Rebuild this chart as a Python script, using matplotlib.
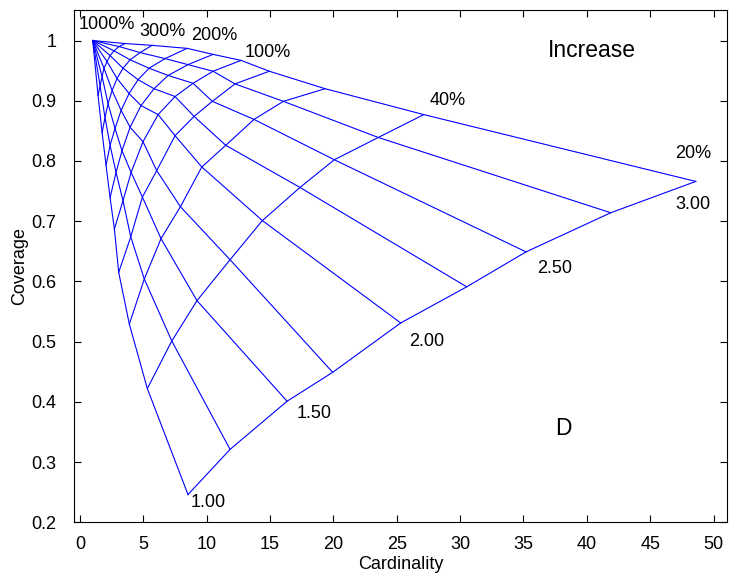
import numpy as np
import matplotlib.pyplot as plt

plt.rcParams['font.family'] = ['Liberation Sans', 'DejaVu Sans']

# parameter values of the mesh
D = [1.00, 1.25, 1.50, 1.75, 2.00, 2.25, 2.50, 2.75, 3.00]
increase = [20, 40, 60, 80, 100, 150, 200, 300, 500, 1000]

# cardinality / coverage for each increase level, one entry per D value
card_20 = [8.52, 11.84, 16.34, 19.94, 25.31, 30.52, 35.20, 41.89, 48.60]
cov_20 = [0.246, 0.321, 0.401, 0.449, 0.531, 0.591, 0.649, 0.714, 0.766]
card_40 = [5.31, 7.24, 9.23, 11.84, 14.39, 17.36, 20.07, 23.54, 27.13]
cov_40 = [0.422, 0.501, 0.568, 0.636, 0.701, 0.756, 0.802, 0.839, 0.877]
card_60 = [3.89, 5.07, 6.39, 7.92, 9.61, 11.50, 13.73, 16.05, 19.34]
cov_60 = [0.529, 0.604, 0.671, 0.724, 0.790, 0.826, 0.869, 0.899, 0.920]
card_80 = [3.05, 4.00, 4.92, 6.05, 7.50, 9.00, 10.44, 12.23, 14.94]
cov_80 = [0.615, 0.674, 0.740, 0.784, 0.842, 0.874, 0.899, 0.928, 0.949]
card_100 = [2.71, 3.39, 4.03, 4.97, 6.16, 7.50, 8.92, 10.50, 12.71]
cov_100 = [0.687, 0.734, 0.781, 0.832, 0.877, 0.907, 0.929, 0.949, 0.967]
card_150 = [2.37, 2.84, 3.31, 3.95, 4.81, 5.84, 6.95, 8.52, 10.50]
cov_150 = [0.739, 0.781, 0.817, 0.856, 0.892, 0.920, 0.942, 0.960, 0.977]
card_200 = [2.05, 2.37, 2.76, 3.24, 3.87, 4.58, 5.45, 6.71, 8.45]
cov_200 = [0.793, 0.826, 0.854, 0.884, 0.912, 0.935, 0.954, 0.970, 0.987]
card_300 = [1.74, 1.97, 2.21, 2.53, 2.92, 3.39, 3.95, 4.74, 5.68]
cov_300 = [0.847, 0.872, 0.895, 0.917, 0.937, 0.954, 0.968, 0.980, 0.992]
card_500 = [1.42, 1.58, 1.74, 1.89, 2.13, 2.37, 2.68, 3.08, 3.55]
cov_500 = [0.909, 0.925, 0.940, 0.954, 0.965, 0.975, 0.983, 0.990, 0.995]
card_1000 = [1.0] * 9
cov_1000 = [1.0] * 9

card = np.array([card_20, card_40, card_60, card_80, card_100,
                 card_150, card_200, card_300, card_500, card_1000])
cov = np.array([cov_20, cov_40, cov_60, cov_80, cov_100,
                cov_150, cov_200, cov_300, cov_500, cov_1000])

fig = plt.figure(figsize=(7.29, 5.79), dpi=100)
ax = fig.add_axes([0.102, 0.098, 0.895, 0.884])

# lines of constant D
for j in range(len(D)):
    ax.plot(card[:, j], cov[:, j], color='b', lw=0.8)
# lines of constant increase
for i in range(len(increase)):
    ax.plot(card[i], cov[i], color='b', lw=0.8)

# D labels at the 20% end
d_labels = {1.00: (8.7, 0.232), 1.50: (17.1, 0.381), 2.00: (26.0, 0.500),
            2.50: (36.1, 0.622), 3.00: (47.0, 0.728)}
for d, (x, y) in d_labels.items():
    ax.text(x, y, f'{d:.2f}', fontsize=13, ha='left', va='center')

# increase labels along the D = 3 edge
inc_labels = {20: (47.0, 0.812), 40: (27.6, 0.900), 100: (13.0, 0.980),
              200: (8.8, 1.008), 300: (4.7, 1.015), 1000: (-0.1, 1.027)}
for p, (x, y) in inc_labels.items():
    ax.text(x, y, f'{p}%', fontsize=13, ha='left', va='center')

ax.text(36.9, 0.983, 'Increase', fontsize=16.5, ha='left', va='center')
ax.text(37.5, 0.356, 'D', fontsize=16.5, ha='left', va='center')

ax.set_xlim(-0.45, 51.05)
ax.set_ylim(0.2, 1.05)
ax.set_xticks(np.arange(0, 51, 5))
ax.set_yticks([0.2, 0.3, 0.4, 0.5, 0.6, 0.7, 0.8, 0.9, 1.0])
ax.set_yticklabels(['0.2', '0.3', '0.4', '0.5', '0.6', '0.7', '0.8', '0.9', '1'])
ax.tick_params(direction='in', top=True, right=True, labelsize=13, length=5)
ax.tick_params(axis='x', pad=10)
ax.tick_params(axis='y', pad=13)
ax.set_xlabel('Cardinality', fontsize=13, labelpad=2)
ax.set_ylabel('Coverage', fontsize=13, labelpad=2)

fig.savefig('out.png', dpi=100)
